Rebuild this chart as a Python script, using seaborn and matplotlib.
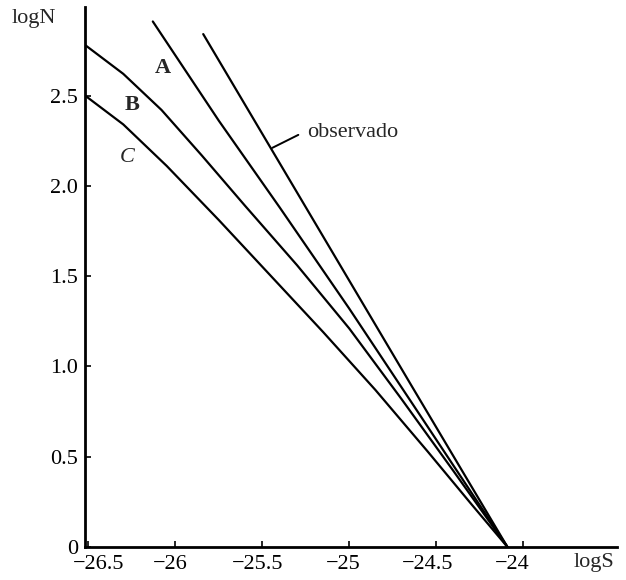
import pandas as pd
import seaborn as sns
import matplotlib.pyplot as plt
from matplotlib.transforms import ScaledTranslation

# values (logS, logN)
a_logS = [-26.13, -25.75, -25.40, -25.00, -24.60, -24.09]
a_logN = [2.91, 2.36, 1.88, 1.32, 0.74, 0.0]

obs_logS = [-25.84, -25.44, -25.04, -24.64, -24.09]
obs_logN = [2.84, 2.19, 1.54, 0.89, 0.0]

b_logS = [-26.52, -26.30, -26.08, -25.85, -25.60, -25.30, -25.00, -24.70, -24.40, -24.09]
b_logN = [2.78, 2.62, 2.42, 2.17, 1.89, 1.56, 1.21, 0.82, 0.42, 0.0]

c_logS = [-26.52, -26.30, -26.05, -25.75, -25.45, -25.15, -24.85, -24.55, -24.30, -24.09]
c_logN = [2.50, 2.34, 2.11, 1.81, 1.50, 1.19, 0.87, 0.53, 0.24, 0.0]

x_ticks = [-26.5, -26, -25.5, -25, -24.5, -24]
x_tick_labels = ['\u221226.5', '\u221226', '\u221225.5', '\u221225', '\u221224.5', '\u221224']
y_ticks = [0, 0.5, 1.0, 1.5, 2.0, 2.5]
y_tick_labels = ['0', '0.5', '1.0', '1.5', '2.0', '2.5']

frames = []
for name, xs, ys in [('A', a_logS, a_logN), ('observado', obs_logS, obs_logN),
                     ('B', b_logS, b_logN), ('C', c_logS, c_logN)]:
    frames.append(pd.DataFrame({'logS': xs, 'logN': ys, 'curva': name}))
df = pd.concat(frames, ignore_index=True)

sns.set_style('ticks')
plt.rcParams['font.family'] = ['Liberation Serif', 'DejaVu Serif']

fig = plt.figure(figsize=(6.26, 5.8), dpi=100)
ax = fig.add_axes([0.1358, 0.0569, 0.8498, 0.9310])

sns.lineplot(data=df, x='logS', y='logN', hue='curva', units='curva', estimator=None,
             sort=False, palette=['black'] * 4, linewidth=1.6, legend=False, ax=ax)

ax.set_xlim(-26.52, -23.46)
ax.set_ylim(0, 2.99)
ax.set_xticks(x_ticks)
ax.set_xticklabels(x_tick_labels)
ax.set_yticks(y_ticks)
ax.set_yticklabels(y_tick_labels)
ax.tick_params(direction='in', length=4, width=1.2, labelsize=16, colors='black')
ax.tick_params(axis='x', pad=6)
ax.tick_params(axis='y', pad=5)
ax.set_xlabel('')
ax.set_ylabel('')
sns.despine(ax=ax)
for s in ['left', 'bottom']:
    ax.spines[s].set_linewidth(2)
    ax.spines[s].set_color('black')

# small horizontal shifts of the x tick labels, as typeset in the original
shifts_px = [10, -5, -5, -6, -9, -11]
for lab, dx in zip(ax.get_xticklabels(), shifts_px):
    lab.set_transform(lab.get_transform() + ScaledTranslation(dx / 100, 0, fig.dpi_scale_trans))

# curve labels
ax.text(-26.07, 2.65, 'A', fontsize=16, fontweight='bold', ha='center', va='center')
ax.text(-26.25, 2.45, 'B', fontsize=16, fontweight='bold', ha='center', va='center')
ax.text(-26.28, 2.155, 'C', fontsize=16, style='italic', ha='center', va='center')
ax.plot([-25.443, -25.293], [2.21, 2.282], color='black', linewidth=1.4)
ax.text(-25.24, 2.271, 'observado', fontsize=16, ha='left', va='baseline')

fig.text(34 / 626, 1 - 19 / 580, 'logN', fontsize=16, ha='center', va='center')
fig.text(594 / 626, 1 - 562 / 580, 'logS', fontsize=16, ha='center', va='center')

fig.savefig('out.png', dpi=100)
